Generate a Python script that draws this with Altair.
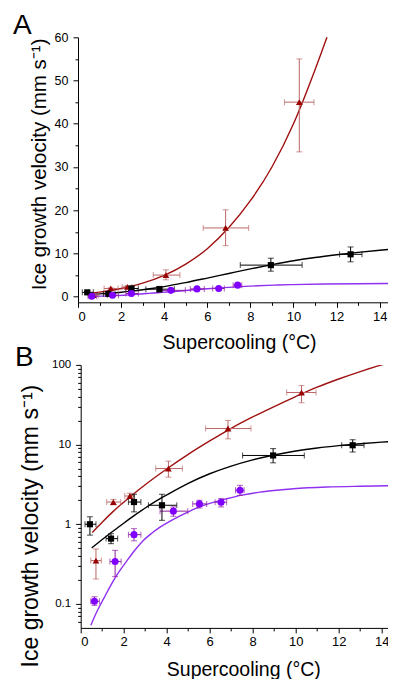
import altair as alt
import pandas as pd

FONT = "Liberation Sans"

# ---- measured points (triangles, dark red) ----
tri_x   = [0.71, 1.52, 2.29, 4.08, 6.85, 10.27]
tri_y   = [0.35, 1.9, 2.26, 5.0, 15.9, 45.0]
tri_xlo = [0.47, 1.21, 2.05, 3.49, 5.81, 9.58]
tri_xhi = [0.96, 1.86, 2.5, 4.73, 7.92, 10.95]
tri_ylo = [0.205, 1.75, 2.1, 3.9, 11.8, 33.5]
tri_yhi = [0.49, 2.05, 2.45, 6.2, 20.1, 55.0]

# ---- measured points (squares, black) ----
sq_x   = [0.43, 1.41, 2.48, 3.78, 8.95, 12.65]
sq_y   = [1.0, 0.66, 1.9, 1.73, 7.3, 9.8]
sq_xlo = [0.2, 1.18, 2.22, 3.15, 7.53, 12.14]
sq_xhi = [0.71, 1.72, 2.8, 4.47, 10.4, 13.18]
sq_ylo = [0.73, 0.57, 1.43, 1.12, 5.9, 8.06]
sq_yhi = [1.24, 0.76, 2.38, 2.38, 8.9, 11.5]

# ---- measured points (circles, purple) ----
ci_x   = [0.64, 1.6, 2.48, 4.31, 5.52, 6.53, 7.41]
ci_y   = [0.108, 0.34, 0.74, 1.46, 1.8, 1.89, 2.67]
ci_xlo = [0.47, 1.36, 2.22, 3.69, 5.21, 6.25, 7.2]
ci_xhi = [0.87, 1.88, 2.8, 4.98, 5.86, 6.79, 7.6]
ci_ylo = [0.096, 0.22, 0.62, 1.26, 1.6, 1.65, 2.3]
ci_yhi = [0.123, 0.47, 0.88, 1.65, 2.0, 2.1, 3.08]

# ---- fitted curves ----
fit_tri_x = [0.54, 1.0, 1.5, 2.0, 2.5, 3.0, 4.0, 5.0, 6.0, 7.0, 8.0, 9.0, 10.0, 11.0, 12.0, 13.0, 14.0, 14.75]
fit_tri_y = [0.79, 1.06, 1.44, 1.89, 2.45, 3.13, 4.93, 7.53, 11.1, 16.0, 22.2, 30.0, 40.0, 52.5, 66.5, 82.5, 100.0, 113.0]

fit_sq_x = [0.51, 1.0, 1.5, 2.0, 2.5, 3.0, 3.5, 4.0, 5.0, 6.0, 7.0, 8.0, 9.0, 10.0, 11.0, 12.0, 13.0, 14.0, 14.75]
fit_sq_y = [0.505, 0.643, 0.818, 1.03, 1.29, 1.6, 1.95, 2.33, 3.26, 4.3, 5.37, 6.43, 7.41, 8.3, 9.06, 9.7, 10.26, 10.74, 11.07]

fit_ci_x = [0.47, 0.8, 1.1, 1.36, 1.7, 2.14, 2.5, 2.9, 3.3, 3.69, 4.1, 4.47, 5.24, 6.0, 6.79, 7.5, 8.34, 9.1, 9.9, 11.44, 13.0, 14.75]
fit_ci_y = [0.054, 0.085, 0.121, 0.164, 0.235, 0.345, 0.465, 0.62, 0.77, 0.92, 1.07, 1.21, 1.54, 1.83, 2.09, 2.32, 2.53, 2.67, 2.79, 2.93, 3.0, 3.05]

# axis ticks
x_major = [0, 2, 4, 6, 8, 10, 12, 14]
x_minor = [1, 3, 5, 7, 9, 11, 13]
ya_major = [0, 10, 20, 30, 40, 50, 60]
ya_minor = [5, 15, 25, 35, 45, 55]
yb_major = [0.1, 1, 10, 100]
yb_minor = [0.06, 0.07, 0.08, 0.09, 0.2, 0.3, 0.4, 0.5, 0.6, 0.7, 0.8, 0.9,
            2, 3, 4, 5, 6, 7, 8, 9, 20, 30, 40, 50, 60, 70, 80, 90]

series = [
    ("tri", tri_x, tri_y, tri_xlo, tri_xhi, tri_ylo, tri_yhi, "#990000", "#BC6666", "triangle-up", 45, fit_tri_x, fit_tri_y, "#A01010"),
    ("sq", sq_x, sq_y, sq_xlo, sq_xhi, sq_ylo, sq_yhi, "#000000", "#000000", "square", 38, fit_sq_x, fit_sq_y, "#000000"),
    ("ci", ci_x, ci_y, ci_xlo, ci_xhi, ci_ylo, ci_yhi, "#8000FF", "#8E1E9E", "circle", 50, fit_ci_x, fit_ci_y, "#9030F0"),
]

pt_rows, fit_rows = [], []
for name, xs, ys, xlo, xhi, ylo, yhi, mcol, ecol, shp, sz, fx, fy, lcol in series:
    for i in range(len(xs)):
        pt_rows.append(dict(s=name, x=xs[i], y=ys[i], xlo=xlo[i], xhi=xhi[i], ylo=ylo[i], yhi=yhi[i],
                            mcol=mcol, ecol=ecol, shape=shp, size=sz))
    for i in range(len(fx)):
        fit_rows.append(dict(s=name, x=fx[i], y=fy[i], lcol=lcol))
pts = pd.DataFrame(pt_rows)
fits = pd.DataFrame(fit_rows)

XTITLE = "Supercooling (°C)"
YTITLE = "Ice growth velocity (mm s⁻¹)"


def panel(letter, ytype, ydomain, ymaj, ymin, width, xmax, height, yfmt, ylab_fs, ytitle_fs,
          ytitle_x, ytitle_y, xtitle_x, xtitle_y, tdx, tdy):
    xs = alt.Scale(domain=[0, xmax], nice=False, zero=False)
    ys = alt.Scale(type=ytype, domain=ydomain, nice=False, zero=False)
    ax_x = alt.Axis(values=x_major, title=XTITLE, orient="bottom", tickSize=5, labelPadding=3,
                    format="d", labelFontSize=13, titleFontSize=19.5, titleX=xtitle_x, titleY=xtitle_y,
                    titleBaseline="alphabetic", titleAlign="center")
    ax_xm = alt.Axis(values=x_minor, title=None, labels=False, domain=False, tickSize=3, orient="bottom")
    ax_y = alt.Axis(values=ymaj, title=YTITLE, orient="left", tickSize=5, labelPadding=5,
                    format=yfmt, labelFontSize=ylab_fs, titleFontSize=ytitle_fs, titleX=ytitle_x,
                    titleY=ytitle_y, titleBaseline="alphabetic", titleAlign="center", titleAngle=-90)
    ax_ym = alt.Axis(values=ymin, title=None, labels=False, domain=False, tickSize=3, orient="left")

    minor = alt.Chart(pts).mark_point(opacity=0).encode(
        x=alt.X("x:Q", scale=xs, axis=ax_xm), y=alt.Y("y:Q", scale=ys, axis=ax_ym))
    lines = alt.Chart(fits).mark_line(clip=True, strokeWidth=1.4, interpolate="monotone").encode(
        x=alt.X("x:Q", scale=xs, axis=ax_x), y=alt.Y("y:Q", scale=ys, axis=ax_y),
        color=alt.Color("lcol:N", scale=None), detail="s:N")
    xerr = alt.Chart(pts).mark_errorbar(ticks=True, size=6, thickness=1).encode(
        x=alt.X("xlo:Q", scale=xs, axis=None), x2="xhi:Q",
        y=alt.Y("y:Q", scale=ys, axis=None), color=alt.Color("ecol:N", scale=None))
    yerr = alt.Chart(pts).mark_errorbar(ticks=True, size=6, thickness=1).encode(
        y=alt.Y("ylo:Q", scale=ys, axis=None), y2="yhi:Q",
        x=alt.X("x:Q", scale=xs, axis=None), color=alt.Color("ecol:N", scale=None))
    dots = alt.Chart(pts).mark_point(filled=True, opacity=1).encode(
        x=alt.X("x:Q", scale=xs, axis=None), y=alt.Y("y:Q", scale=ys, axis=None),
        color=alt.Color("mcol:N", scale=None), shape=alt.Shape("shape:N", scale=None),
        size=alt.Size("size:Q", scale=None))
    return alt.layer(minor, lines, xerr, yerr, dots).resolve_axis(
        x="independent", y="independent").properties(
        width=width, height=height,
        title=alt.TitleParams(letter, anchor="start", frame="group", fontSize=28, font=FONT,
                              fontWeight="normal", color="black", baseline="alphabetic",
                              dx=tdx, dy=tdy, offset=0))


a = panel("A", "linear", [-1.3, 60], ya_major, ya_minor, 318, 14.757, 265, "d", 12.5, 20.5,
          -33, 126.6, 161, 46.2, -65, 30.6)
b = panel("B", "log", [0.05, 100], yb_major, yb_minor, 312.6, 14.54, 263, "~g", 11.5, 23,
          -43.4, 160.7, 162.6, 47.3, -65.7, 35)

chart = alt.vconcat(a, b, spacing=62.6, bounds="flush", center=True).properties(
    padding={"left": 5, "top": 3.3, "right": -8, "bottom": 0}
).configure_axis(
    labelColor="black", titleColor="black",
    domainColor="black", tickColor="black", grid=False, labelFont=FONT, titleFont=FONT,
    titleFontWeight="normal", domainWidth=1, tickWidth=1
).configure_view(stroke=None)

chart.save("out.html", embed_options={"renderer": "svg", "actions": False})
